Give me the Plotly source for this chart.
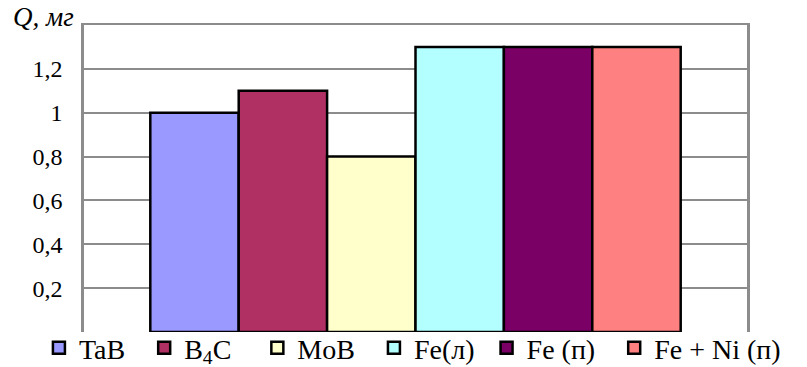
import plotly.graph_objects as go

# Mass loss Q (mg) for each coating material
materials = ["TaB", "B<sub>4</sub>C", "MoB", "Fe(л)", "Fe (п)", "Fe + Ni (п)"]
q_values = [1.0, 1.1, 0.8, 1.3, 1.3, 1.3]
bar_colors = ["#9999FF", "#B03064", "#FFFFCC", "#B3FFFF", "#7A0066", "#FF8080"]
# non-breaking spaces after each legend entry, widening the gap to the next one
legend_pad = [2, 3, 2, 1, 2, 0]

y_tick_vals = [0.2, 0.4, 0.6, 0.8, 1.0, 1.2]
y_tick_text = ["0,2", "0,4", "0,6", "0,8", "1", "1,2"]

SERIF = "Liberation Serif"

fig = go.Figure()
for name, val, col, pad in zip(materials, q_values, bar_colors, legend_pad):
    fig.add_trace(go.Bar(
        x=[""], y=[val], name=name + "\u00a0" * pad,
        marker=dict(color=col, line=dict(color="#000000", width=2.5)),
    ))

fig.update_layout(
    width=807, height=367,
    margin=dict(l=84, r=60, t=25, b=35, autoexpand=False),
    paper_bgcolor="white", plot_bgcolor="white",
    barmode="group", bargap=0.2, bargroupgap=0,
    showlegend=True,
    legend=dict(
        orientation="h", xref="paper", yref="paper",
        x=-0.068, xanchor="left", y=-0.052, yanchor="middle",
        font=dict(family=SERIF, size=28, color="black"),
        itemwidth=30, traceorder="normal", bgcolor="rgba(0,0,0,0)",
    ),
    xaxis=dict(
        side="top", showline=True, linecolor="#8C8C8C", linewidth=2,
        showticklabels=False, ticks="", showgrid=False, zeroline=False,
    ),
    yaxis=dict(
        range=[0, 1.4], tickvals=y_tick_vals, ticktext=y_tick_text,
        showline=True, mirror=True, linecolor="#8C8C8C", linewidth=2.5,
        showgrid=True, gridcolor="#8C8C8C", gridwidth=1.5,
        zeroline=False, ticks="", ticklabelstandoff=14,
        tickfont=dict(family=SERIF, size=24, color="black"),
    ),
    annotations=[dict(
        text="<i>Q, мг</i>", xref="paper", yref="paper", x=0, y=1,
        xanchor="right", yanchor="bottom", xshift=-8, yshift=-9,
        showarrow=False, font=dict(family=SERIF, size=27, color="black"),
    )],
)

fig.write_html("out.html")
